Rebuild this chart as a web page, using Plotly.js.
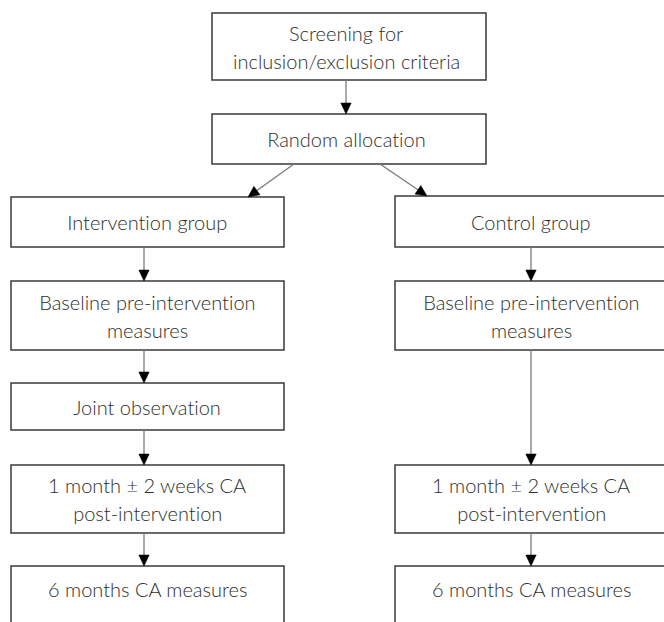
<!DOCTYPE html>
<html>
<head>
<meta charset="utf-8">
<script src="https://cdn.plot.ly/plotly-3.0.1.min.js"></script>
<style>html,body{margin:0;padding:0;background:#fff;}#chart{width:664px;height:622px;}
#chart text{font-variant-ligatures:none;font-feature-settings:"liga" 0;}</style>
</head>
<body>
<div id="chart"></div>
<script>
// ---- content (flowchart nodes and links) ----
const nodeLabels = [
  ["Screening for", "inclusion/exclusion criteria"],
  ["Random allocation"],
  ["Intervention group"],
  ["Baseline pre-intervention", "measures"],
  ["Joint observation"],
  ["1 month \u00b1 2 weeks CA", "post-intervention"],
  ["6 months CA measures"],
  ["Control group"],
  ["Baseline pre-intervention", "measures"],
  ["1 month \u00b1 2 weeks CA", "post-intervention"],
  ["6 months CA measures"]
];
const edgeFrom = [0, 1, 1, 2, 3, 4, 5, 7, 8, 9];
const edgeTo   = [1, 2, 7, 3, 4, 5, 6, 8, 9, 10];

// ---- drawing geometry (layout, not data) ----
const boxX0 = [212, 212, 11, 11, 11, 11, 11, 395, 395, 395, 395];
const boxX1 = [486, 486, 284, 284, 284, 284, 284, 668, 668, 668, 668];
const boxY0 = [13, 114, 197, 281, 383, 465, 566, 196, 281, 465, 566];
const boxY1 = [80, 164, 247, 350, 430, 533, 650, 247, 350, 533, 650];
const textCx = [346, 346, 147, 147, 147, 147, 147, 531, 531, 531, 531];
const lineGap = 28;
const edgeSx = [346, 294, 380, 144, 144, 144, 144, 531, 531, 531];
const edgeTx = [346, 248, 427, 144, 144, 144, 144, 531, 531, 531];

const shapes = [];
const annotations = [];
const boxLine = '#3a3a3a';
const arrowLine = '#7a7a7a';
const headLen = 11, headHalf = 5.2;

for (let i = 0; i < nodeLabels.length; i++) {
  shapes.push({type: 'rect', xref: 'x', yref: 'y', x0: boxX0[i], x1: boxX1[i], y0: boxY0[i], y1: boxY1[i],
    line: {color: boxLine, width: 1.5}, fillcolor: 'rgba(0,0,0,0)', layer: 'above'});
  const lines = nodeLabels[i];
  const bottom = (i === 6 || i === 10) ? boxY0[i] + 45 : boxY1[i];
  const cy = (boxY0[i] + bottom) / 2;
  for (let k = 0; k < lines.length; k++) {
    const y = cy + (k - (lines.length - 1) / 2) * lineGap;
    annotations.push({x: textCx[i], y: y, xref: 'x', yref: 'y', text: lines[k], showarrow: false,
      xanchor: 'center', yanchor: 'middle',
      font: {family: 'Lato, Carlito, sans-serif', size: 20, color: '#2e2e2e', weight: 300}});
  }
}

for (let e = 0; e < edgeFrom.length; e++) {
  const sx = edgeSx[e], sy = boxY1[edgeFrom[e]];
  const tx = edgeTx[e], ty = boxY0[edgeTo[e]];
  const dx = tx - sx, dy = ty - sy, len = Math.sqrt(dx * dx + dy * dy);
  const ux = dx / len, uy = dy / len;
  const bx = tx - ux * headLen, by = ty - uy * headLen;
  shapes.push({type: 'line', xref: 'x', yref: 'y', x0: sx, y0: sy, x1: bx, y1: by,
    line: {color: arrowLine, width: 1.3}});
  const p1x = bx - uy * headHalf, p1y = by + ux * headHalf;
  const p2x = bx + uy * headHalf, p2y = by - ux * headHalf;
  shapes.push({type: 'path', xref: 'x', yref: 'y',
    path: 'M' + tx + ',' + ty + ' L' + p1x + ',' + p1y + ' L' + p2x + ',' + p2y + ' Z',
    fillcolor: '#000000', line: {color: '#000000', width: 0.5}});
}

const layout = {
  width: 664, height: 622,
  margin: {l: 0, r: 0, t: 0, b: 0},
  paper_bgcolor: '#ffffff', plot_bgcolor: '#ffffff',
  xaxis: {range: [0, 664], visible: false, fixedrange: true},
  yaxis: {range: [622, 0], visible: false, fixedrange: true},
  showlegend: false,
  shapes: shapes,
  annotations: annotations
};

Plotly.newPlot('chart', [], layout, {staticPlot: true, displayModeBar: false});
</script>
</body>
</html>
